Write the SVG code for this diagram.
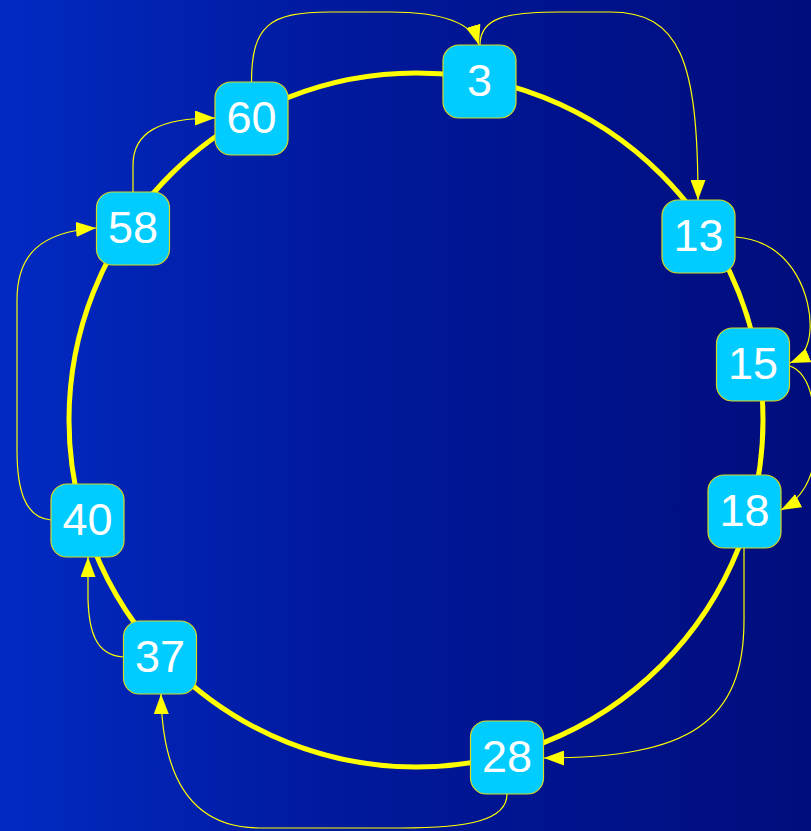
<svg xmlns="http://www.w3.org/2000/svg" width="811" height="831" viewBox="0 0 811 831">
<defs>
<linearGradient id="bg" x1="0" y1="0" x2="1" y2="0">
<stop offset="0" stop-color="#022ac2"/>
<stop offset="0.45" stop-color="#00189a"/>
<stop offset="1" stop-color="#000d7c"/>
</linearGradient>
<marker id="arr" viewBox="0 0 20 15" refX="20" refY="7.5" markerWidth="20" markerHeight="15" markerUnits="userSpaceOnUse" orient="auto">
<path d="M0,0 L20,7.5 L0,15 Z" fill="#ffff00"/>
</marker>
<style>
.node rect{fill:#00ccff;stroke:#d8d820;stroke-width:1.2}
.node text{font-family:"Liberation Sans",Arial,sans-serif;font-size:45px;fill:#ffffff;text-anchor:middle}
.link{fill:none;stroke:#ffff00;stroke-width:1.2;marker-end:url(#arr)}
</style>
</defs>
<rect width="811" height="831" fill="url(#bg)"/>
<circle id="ring" cx="416" cy="420" r="347" fill="none" stroke="#ffff00" stroke-width="5"/>
<g id="connectors">
<path class="link" d="M251.5,82 C251.5,25 270,12 330,12 L390,12 C440,12 472,22 479,45"/>
<path class="link" d="M480,45 C480,18 505,12 560,12 L610,12 C680,12 698,60 698,200"/>
<path class="link" d="M736,237 C795,242 812,300 810,330 C809,348 802,358 790,363"/>
<path class="link" d="M790,366 C815,375 816,420 815,450 C814,480 800,500 781,510"/>
<path class="link" d="M744,548 L744,620 C744,722 690,758 544,758"/>
<path class="link" d="M507,794 C507,820 470,828 400,828 L260,828 C180,828 162,760 161,694"/>
<path class="link" d="M123,657 C95,655 89,630 88,600 L88,557"/>
<path class="link" d="M51,520 C25,518 17,490 17,450 L17,300 C17,255 40,232 96,228"/>
<path class="link" d="M133,192 L133,165 C133,132 160,118 215,118"/>
</g>
<g id="n3" class="node"><rect x="443" y="45" width="73" height="73" rx="16"/><text x="479.5" y="96">3</text></g>
<g id="n60" class="node"><rect x="215" y="82" width="73" height="73" rx="16"/><text x="251.5" y="133">60</text></g>
<g id="n13" class="node"><rect x="662" y="200" width="73" height="73" rx="16"/><text x="698.5" y="251">13</text></g>
<g id="n58" class="node"><rect x="96.5" y="192" width="73" height="73" rx="16"/><text x="133" y="243">58</text></g>
<g id="n15" class="node"><rect x="716.5" y="328" width="73" height="73" rx="16"/><text x="753" y="379">15</text></g>
<g id="n18" class="node"><rect x="708" y="475" width="73" height="73" rx="16"/><text x="744.5" y="526">18</text></g>
<g id="n40" class="node"><rect x="51" y="484" width="73" height="73" rx="16"/><text x="87.5" y="535">40</text></g>
<g id="n37" class="node"><rect x="123.5" y="621" width="73" height="73" rx="16"/><text x="160" y="672">37</text></g>
<g id="n28" class="node"><rect x="470.5" y="721" width="73" height="73" rx="16"/><text x="507" y="772">28</text></g>
</svg>
